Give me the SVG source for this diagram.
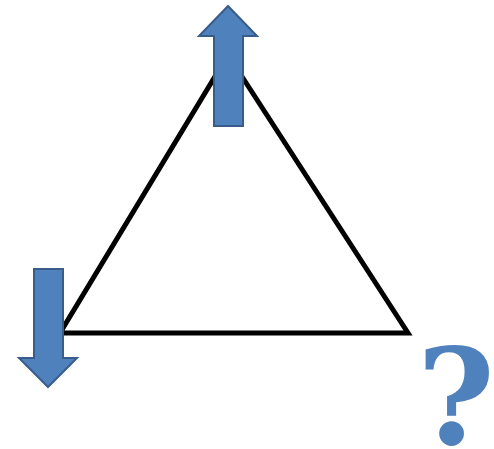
<svg xmlns="http://www.w3.org/2000/svg" width="494" height="449" viewBox="0 0 494 449">
<style>
.arrow{fill:#4F81BD;stroke:#385D8A;stroke-width:2;stroke-linejoin:miter}
.edge{fill:none;stroke:#000;stroke-width:5;stroke-linejoin:miter}
.q{font-family:"DejaVu Serif","Liberation Serif",serif;font-weight:bold;fill:#4F81BD}
</style>
<g id="connectors">
<polygon class="edge" points="228,55 408,333 60,333"/>
</g>
<g id="up-arrow">
<polygon class="arrow" points="228,6 257,36 243,36 243,126 214,126 214,36 199,36"/>
</g>
<g id="down-arrow">
<polygon class="arrow" points="34,269 63,269 63,358 77,358 48,387 19,358 34,358"/>
</g>
<g id="question">
<text class="q" x="456" y="444" font-size="133" text-anchor="middle">?</text>
</g>
</svg>
